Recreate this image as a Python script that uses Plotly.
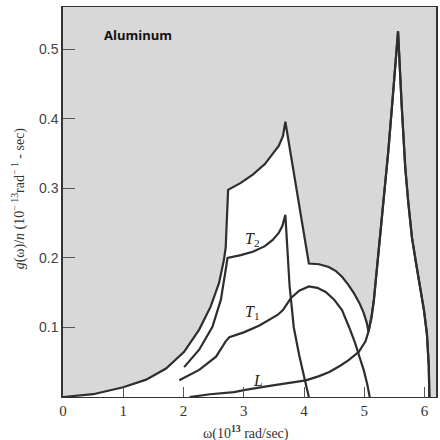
import plotly.graph_objects as go

# ---- data ----
omega_total = [0, 0.5, 1.0, 1.38, 1.71, 2.01, 2.26, 2.45, 2.59, 2.67, 2.70, 2.74, 2.95, 3.15, 3.35,
               3.48, 3.58, 3.65, 3.69, 4.08, 4.25, 4.41, 4.53, 4.63, 4.73, 4.83, 4.92, 4.99, 5.04,
               5.07, 5.12, 5.16, 5.24, 5.32, 5.40, 5.49, 5.56, 5.62, 5.68, 5.73, 5.79, 5.86, 5.93,
               5.99, 6.04, 6.07, 6.08]
g_total = [0, 0.004, 0.014, 0.025, 0.041, 0.065, 0.097, 0.13, 0.164, 0.197, 0.215, 0.298, 0.308,
           0.32, 0.335, 0.349, 0.361, 0.375, 0.396, 0.192, 0.191, 0.187, 0.181, 0.173, 0.162, 0.149,
           0.135, 0.121, 0.107, 0.094, 0.115, 0.14, 0.21, 0.283, 0.355, 0.45, 0.526, 0.42, 0.33,
           0.28, 0.23, 0.192, 0.155, 0.125, 0.09, 0.045, 0]

omega_T2 = [2.01, 2.26, 2.48, 2.62, 2.70, 2.73, 2.95, 3.15, 3.35, 3.48, 3.58, 3.64, 3.69, 3.72,
            3.76, 3.83, 3.92, 4.01, 4.08]
g_T2 = [0.043, 0.068, 0.101, 0.14, 0.183, 0.2, 0.204, 0.209, 0.217, 0.226, 0.236, 0.246, 0.262,
        0.22, 0.16, 0.10, 0.06, 0.026, 0]

omega_T1 = [1.93, 2.26, 2.54, 2.70, 2.76, 3.0, 3.26, 3.43, 3.56, 3.65, 3.78, 3.92, 4.08, 4.22,
            4.36, 4.50, 4.63, 4.75, 4.85, 4.93, 4.99, 5.05, 5.09]
g_T1 = [0.024, 0.039, 0.058, 0.08, 0.086, 0.093, 0.103, 0.111, 0.118, 0.125, 0.142, 0.153, 0.159,
        0.157, 0.151, 0.14, 0.125, 0.10, 0.077, 0.055, 0.039, 0.018, 0]

omega_L = [2.10, 2.44, 2.84, 3.0, 3.43, 3.73, 4.03, 4.25, 4.42, 4.60, 4.74, 4.91, 5.02, 5.07,
           5.12, 5.16, 5.24, 5.32, 5.40, 5.49, 5.56, 5.62, 5.68, 5.73, 5.79, 5.86, 5.93, 5.99,
           6.04, 6.07, 6.08]
g_L = [0, 0.004, 0.007, 0.010, 0.016, 0.020, 0.024, 0.030, 0.036, 0.045, 0.053, 0.065, 0.08, 0.094,
       0.115, 0.14, 0.21, 0.283, 0.355, 0.45, 0.526, 0.42, 0.33, 0.28, 0.23, 0.192, 0.155, 0.125,
       0.09, 0.045, 0]

x_ticks = [0, 1, 2, 3, 4, 5, 6]
y_ticks = [0.1, 0.2, 0.3, 0.4, 0.5]

LINE = "#2e2e2e"
GRAY = "#d8d8d8"

fig = go.Figure()
fig.add_trace(go.Scatter(x=omega_total, y=g_total, mode="lines", fill="tozeroy",
                         fillcolor="white", line=dict(color=LINE, width=2.2), hoverinfo="skip"))
for xs, ys in [(omega_T2, g_T2), (omega_T1, g_T1), (omega_L, g_L)]:
    fig.add_trace(go.Scatter(x=xs, y=ys, mode="lines", line=dict(color=LINE, width=2.2),
                             hoverinfo="skip"))

serif = "Liberation Serif"
fig.update_layout(
    width=440, height=440,
    margin=dict(l=63, r=2, t=7, b=43),
    paper_bgcolor="white", plot_bgcolor=GRAY,
    showlegend=False,
    xaxis=dict(range=[0, 6.19], tickvals=x_ticks, ticks="inside", ticklen=10, tickwidth=1,
               tickcolor="#555", showgrid=False, zeroline=False, showline=True, linecolor="#333",
               linewidth=1.2, mirror=True,
               tickfont=dict(family=serif, size=15, color="#333")),
    yaxis=dict(range=[0, 0.561], tickvals=y_ticks, ticktext=["0.1", "0.2", "0.3", "0.4", "0.5"],
               ticks="inside", ticklen=12, tickwidth=1, tickcolor="#555", showgrid=False,
               zeroline=False, showline=True, linecolor="#333", linewidth=1.5, mirror=True,
               tickfont=dict(family="Liberation Sans", size=14, color="#444")),
)

ann_font = dict(family=serif, size=16, color="#222")
fig.add_annotation(x=3.15, y=0.226, text="<i>T</i><sub>2</sub>", showarrow=False, font=ann_font)
fig.add_annotation(x=3.15, y=0.122, text="<i>T</i><sub>1</sub>", showarrow=False, font=ann_font)
fig.add_annotation(x=3.23, y=0.024, text="<i>L</i>", showarrow=False, font=ann_font)
fig.add_annotation(x=1.24, y=0.521, text="<b>Aluminum</b>", showarrow=False,
                   font=dict(family="Open Sans", size=13, color="#111"))

fig.add_annotation(xref="paper", yref="paper", x=-0.12, y=0.51, xanchor="center", yanchor="middle",
                   textangle=-90, showarrow=False,
                   text="<i>g</i>(ω)/<i>n</i> (10<sup>− 13</sup>rad<sup>− 1</sup> - sec)",
                   font=dict(family=serif, size=14, color="#333"))
fig.add_annotation(xref="paper", yref="paper", x=0.49, y=-0.092, xanchor="center", yanchor="middle",
                   showarrow=False, text="ω(10<sup><b>13</b></sup> rad/sec)",
                   font=dict(family=serif, size=14, color="#333"))

fig.write_html("out.html")
